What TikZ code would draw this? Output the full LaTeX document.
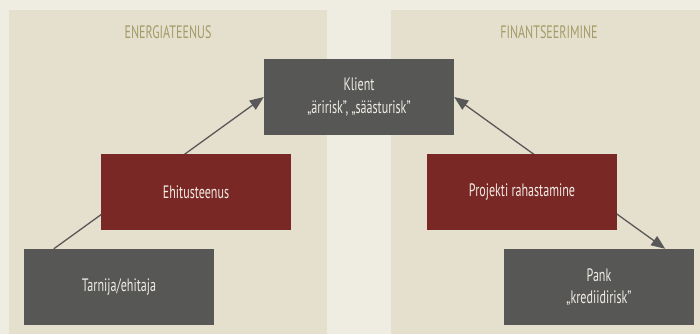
\documentclass[tikz,border=0pt]{standalone}
\usepackage{fontspec}
\setmainfont{PT Sans}[FakeStretch=0.67]
\usetikzlibrary{arrows.meta,calc}
\definecolor{bgc}{HTML}{EFEDE2}
\definecolor{panelc}{HTML}{E5E0CD}
\definecolor{titlec}{HTML}{A59A68}
\definecolor{darkc}{HTML}{575756}
\definecolor{redc}{HTML}{7A2826}
\definecolor{txtc}{HTML}{F0ECE4}
\definecolor{linec}{HTML}{585858}
\tikzset{
  boxbase/.style={minimum width=190pt, minimum height=76pt, inner sep=0pt, text=txtc, align=center, font=\fontsize{18}{22.5}\selectfont},
  darkbox/.style={boxbase, fill=darkc},
  redbox/.style={boxbase, fill=redc},
  paneltitle/.style={text=titlec, font=\fontsize{18}{20}\selectfont, inner sep=0pt},
  conn/.style={draw=linec, line width=1.3pt},
  tip/.style={-{Triangle[length=14pt,width=11pt]}}
}
\begin{document}
\begin{tikzpicture}[x=1pt,y=-1pt]
\fill[bgc] (0,0) rectangle (700,334);
\useasboundingbox (0,0) rectangle (700,334);
\fill[panelc] (9,10) rectangle (327,334);
\fill[panelc] (391,10) rectangle (700,334);
\node[paneltitle] (t1) at (168,32) {ENERGIATEENUS};
\node[paneltitle] (t2) at (549,32) {FINANTSEERIMINE};
\node[darkbox] (klient) at (359,97) {Klient\\„äririsk”, „säästurisk”};
\node[darkbox] (tarn) at (119,287) {Tarnija/ehitaja};
\node[darkbox] (pank) at (599,287) {Pank\\„krediidirisk”};
\draw[conn,tip] ([xshift=30pt]tarn.north west) -- (klient.west);
\draw[conn,{Triangle[length=14pt,width=11pt]}-{Triangle[length=14pt,width=11pt]}] (klient.east) -- ([xshift=-29pt]pank.north east);
\node[redbox] (ehit) at (196,192) {Ehitusteenus};
\node[redbox] (proj) at (522,192) {Projekti rahastamine};
\end{tikzpicture}
\end{document}
